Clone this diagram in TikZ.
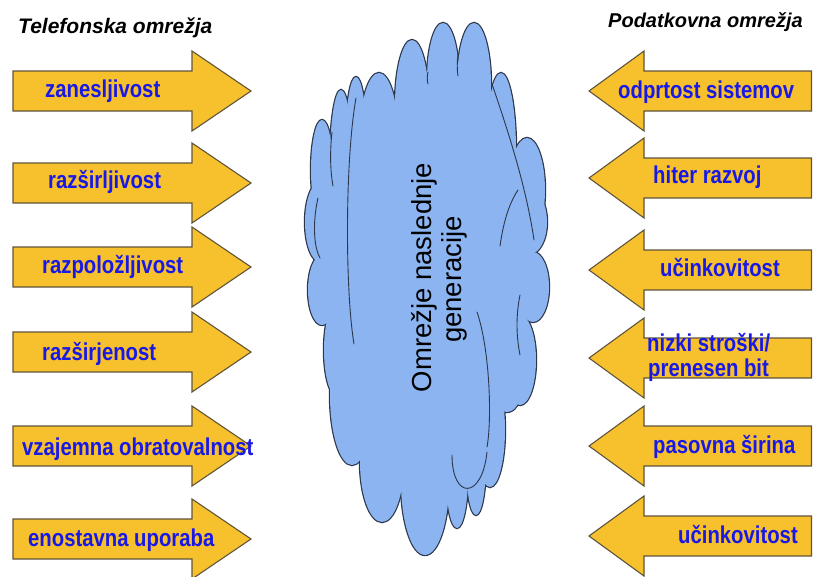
\documentclass[tikz,border=0pt]{standalone}
\usepackage{fontspec}
\setmainfont{Liberation Sans}

\definecolor{arrowfill}{RGB}{247,192,45}
\definecolor{arrowline}{RGB}{95,85,60}
\definecolor{cloudfill}{RGB}{139,180,240}
\definecolor{cloudline}{RGB}{45,55,75}
\definecolor{labelblue}{RGB}{25,25,230}

\tikzset{
  arrowbox/.style={fill=arrowfill, draw=arrowline, line width=1.1pt, line join=miter},
  lbl/.style={font=\bfseries\fontsize{20.3}{21}\selectfont, text=labelblue,
    inner sep=0pt, anchor=base west, yscale=1.2},
  ttl/.style={font=\bfseries\itshape\fontsize{21}{24}\selectfont, inner sep=0pt, anchor=base west},
  ctext/.style={font=\fontsize{27.5}{33}\selectfont, inner sep=0pt, anchor=base, rotate=90},
  lobeedge/.style={draw=cloudline, line width=2.4pt, fill=cloudfill},
  innerline/.style={draw=cloudline, line width=0.9pt, line cap=round},
}

% lobes of the cloud: centre x / centre y / x radius / y radius
\def\cloudlobes{322/170/11/50, 341/160/11/70, 356/135/10/58, 379/135/19/62,
  412/105/17/65, 443/80/16/57, 474/85/17/62, 501/150/15/77, 527/190/18/52,
  530/222/17/32, 533/287/16/35, 520/360/16/45, 507/390/14/22, 490/430/15/57,
  476/462/10/53, 457/475/11/53, 425/482/24/73, 382/462/22/60, 352/395/22/70,
  336/350/12/45, 322/290/14/35, 320/222/15/40}

\begin{document}
\begin{tikzpicture}[x=1pt, y=-1pt]
\useasboundingbox (0,0) rectangle (813,576);

% ---- cloud: outlined lobes, then filled again so only the rim stays
\foreach \cx/\cy/\rx/\ry in \cloudlobes
  \path[lobeedge] (\cx,\cy) ellipse [x radius=\rx, y radius=\ry];
\foreach \cx/\cy/\rx/\ry in \cloudlobes
  \fill[cloudfill] (\cx,\cy) ellipse [x radius=\rx, y radius=\ry];
\fill[cloudfill] (322,170) -- (341,160) -- (356,135) -- (379,135) -- (412,105)
  -- (443,80) -- (474,85) -- (501,150) -- (527,190) -- (530,222) -- (533,287)
  -- (520,360) -- (507,390) -- (490,430) -- (476,462) -- (457,475) -- (425,482)
  -- (382,462) -- (352,395) -- (336,350) -- (322,290) -- (320,222) -- cycle;

% inner lobe edges
\draw[innerline] (356,98) .. controls (345,160) and (345,290) .. (354,344);
\draw[innerline] (332,132) .. controls (330,150) and (330,170) .. (333,186);
\draw[innerline] (318,198) .. controls (313,220) and (313,245) .. (320,258);
\draw[innerline] (492,84) .. controls (506,125) and (526,185) .. (534,240);
\draw[innerline] (500,246) .. controls (503,225) and (508,205) .. (518,190);
\draw[innerline] (477,312) .. controls (490,350) and (492,420) .. (487,447);
\draw[innerline] (452,455) .. controls (452,500) and (482,500) .. (487,452);
\draw[innerline] (520,295) .. controls (516,315) and (516,335) .. (520,355);
\draw[innerline] (428,72) .. controls (427,76) and (427,80) .. (428,84);
\draw[innerline] (458,55) .. controls (457,62) and (457,70) .. (458,76);

\node[ctext] (cloudA) at (431.7,277.5) {Omrežje naslednje};
\node[ctext] (cloudB) at (461.7,279.5) {generacije};

% ---- titles
\node[ttl] (telTitle) at (18,33) {Telefonska omrežja};
\node[ttl, font=\bfseries\itshape\fontsize{20}{24}\selectfont] (podTitle) at (608,27) {Podatkovna omrežja};

% ---- arrows pointing right (telephone networks)
\foreach \c in {91,183,267,352,446,539}
  \draw[arrowbox] (13,\c-20) -- (192,\c-20) -- (192,\c-40) -- (251,\c)
    -- (192,\c+40) -- (192,\c+20) -- (13,\c+20) -- cycle;

% ---- arrows pointing left (data networks)
\foreach \c in {91,178,270,358,446,536}
  \draw[arrowbox] (811.5,\c-20) -- (644,\c-20) -- (644,\c-40) -- (589,\c)
    -- (644,\c+40) -- (644,\c+20) -- (811.5,\c+20) -- cycle;

% ---- labels, left
\node[lbl] (l1) at (45,97.5) {zanesljivost};
\node[lbl] (l2) at (48,188.3) {razširljivost};
\node[lbl] (l3) at (42,273.3) {razpoložljivost};
\node[lbl] (l4) at (42,360) {razširjenost};
\node[lbl] (l5) at (22,455) {vzajemna obratovalnost};
\node[lbl] (l6) at (28,546.7) {enostavna uporaba};

% ---- labels, right
\node[lbl] (r1) at (618,98.3) {odprtost sistemov};
\node[lbl] (r2) at (653,183.3) {hiter razvoj};
\node[lbl] (r3) at (660,276.7) {učinkovitost};
\node[lbl] (r4a) at (647,351.7) {nizki stroški/};
\node[lbl] (r4b) at (648,376.7) {prenesen bit};
\node[lbl] (r5) at (653,453.3) {pasovna širina};
\node[lbl] (r6) at (678,543.3) {učinkovitost};

\end{tikzpicture}
\end{document}
